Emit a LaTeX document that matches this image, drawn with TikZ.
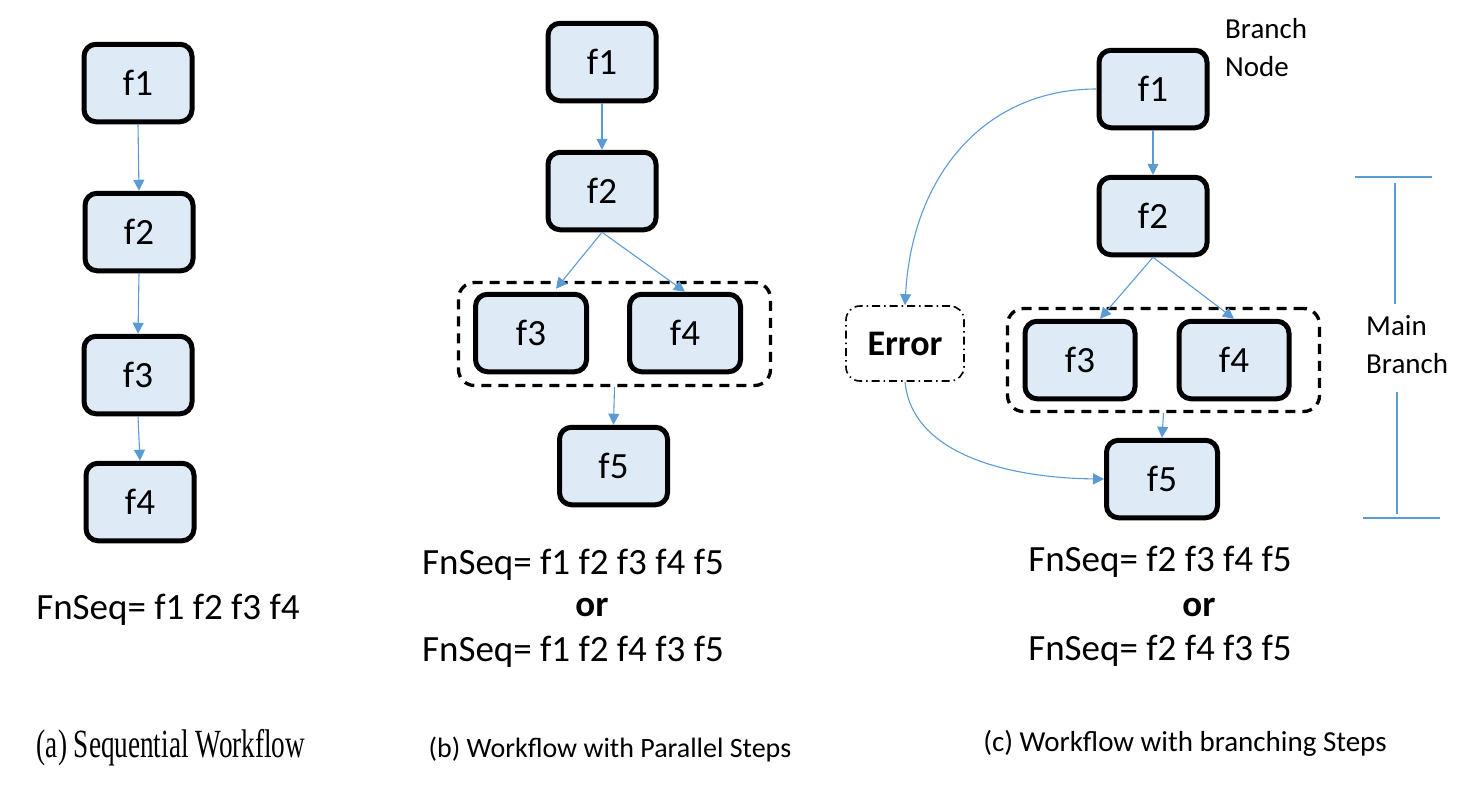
\documentclass[tikz,border=0pt]{standalone}
\usepackage{fontspec}
\setmainfont{Carlito}
\newfontfamily\capserif[FakeStretch=0.68]{Liberation Serif}
\usetikzlibrary{arrows.meta,calc}
\definecolor{boxfill}{HTML}{DEEBF7}
\definecolor{arrowblue}{HTML}{5B9BD5}
\tikzset{
  fbox/.style={draw=black, line width=5pt, fill=boxfill, rounded corners=12pt,
    minimum width=108pt, minimum height=77.5pt, inner sep=0pt,
    font=\fontsize{37}{44}\selectfont},
  conn/.style={draw=arrowblue, line width=1.1pt, -{Triangle[width=11pt,length=11pt]}},
  plainline/.style={draw=arrowblue, line width=1.1pt},
  grp/.style={draw=black, line width=3.3pt, dash pattern=on 10pt off 7pt,
    rounded corners=16pt, minimum width=312pt, minimum height=103pt, inner sep=0pt},
  errbox/.style={draw=black, line width=1.6pt, dash pattern=on 8pt off 4pt on 1.5pt off 4pt,
    rounded corners=14pt, minimum width=118pt, minimum height=75pt, inner sep=0pt,
    font=\bfseries\fontsize{36}{42}\selectfont},
  seqtxt/.style={font=\fontsize{37}{44}\selectfont, inner sep=0pt},
  ortxt/.style={font=\bfseries\fontsize{37}{44}\selectfont, inner sep=0pt},
  lbl/.style={font=\fontsize{29}{38}\selectfont, inner sep=0pt, align=left},
  captxt/.style={font=\fontsize{28}{34}\selectfont, inner sep=0pt},
}
\begin{document}
\begin{tikzpicture}[x=1pt,y=-1pt]
\useasboundingbox (0,0) rectangle (1473,785);

% ---- Panel (a)
\node[fbox] (a1) at (138,83) {f1};
\node[fbox] (a2) at (139,232) {f2};
\node[fbox] (a3) at (138,375) {f3};
\node[fbox] (a4) at (140,502) {f4};
\draw[conn] (a1.south) -- (a2.north);
\draw[conn] (a2.south) -- (a3.north);
\draw[conn] (a3.south) -- (a4.north);
\node[seqtxt] (aseq) at (168,610) {FnSeq= f1 f2 f3 f4};
\node[inner sep=0pt, font=\capserif\fontsize{40}{46}\selectfont] (acap) at (171,748) {(a) Sequential Workflow};

% ---- Panel (b)
\node[fbox] (b1) at (602,62) {f1};
\node[fbox] (b2) at (602,191) {f2};
\node[grp] (bg) at (614.5,334) {};
\node[fbox, minimum width=111pt] (b3) at (531,333) {f3};
\node[fbox, minimum width=111pt] (b4) at (685,333) {f4};
\node[fbox] (b5) at (613.5,466) {f5};
\coordinate (b3t) at ($(b3.north)+(25,-3)$);
\draw[conn] (b1.south) -- (b2.north);
\draw[conn] (b2.south) -- (b3t);
\draw[conn] (b2.south) -- (b4.north);
\draw[conn] (bg.south) -- (b5.north);
\node[seqtxt] (bseq1) at (573,565) {FnSeq= f1 f2 f3 f4 f5};
\node[ortxt] (bor) at (592,607) {or};
\node[seqtxt] (bseq2) at (573,652) {FnSeq= f1 f2 f4 f3 f5};
\node[captxt] (bcap) at (610,750) {(b) Workflow with Parallel Steps};

% ---- Panel (c)
\node[fbox] (c1) at (1153,89) {f1};
\node[fbox] (c2) at (1153,216) {f2};
\node[grp] (cg) at (1163.5,360) {};
\node[fbox, minimum width=110pt] (c3) at (1080,360) {f3};
\node[fbox, minimum width=110pt] (c4) at (1234,360) {f4};
\node[fbox, minimum width=111pt] (c5) at (1162,479) {f5};
\node[errbox] (er) at (905,343.5) {Error};
\coordinate (c3t) at ($(c3.north)+(20,0)$);
\draw[conn] (c1.south) -- (c2.north);
\draw[conn] (c2.south) -- (c3t);
\draw[conn] (c2.south) -- (c4.north);
\draw[conn] (cg.south) -- (c5.north);
\draw[conn] (c1.west) .. controls (985,89) and (912,175) .. (er.north);
\draw[conn] (er.south) .. controls (912,455) and (1010,478) .. (c5.west);
\node[lbl, anchor=north west] (bn) at (1225,18) {Branch\\Node};
\node[lbl, anchor=west] (mb) at (1366,345) {Main\\Branch};
\coordinate (t1) at (1355,177);
\coordinate (t2) at (1432,177);
\coordinate (v1) at (1395,183);
\coordinate (v2) at (1395,304);
\coordinate (v3) at (1397,392);
\coordinate (v4) at (1397,514);
\coordinate (u1) at (1363,518);
\coordinate (u2) at (1440,518);
\draw[plainline] (t1) -- (t2);
\draw[plainline] (v1) -- (v2);
\draw[plainline] (v3) -- (v4);
\draw[plainline] (u1) -- (u2);
\node[seqtxt] (cseq1) at (1160,562) {FnSeq= f2 f3 f4 f5};
\node[ortxt] (cor) at (1199,607) {or};
\node[seqtxt] (cseq2) at (1160,651) {FnSeq= f2 f4 f3 f5};
\node[captxt, font=\fontsize{29}{34}\selectfont] (ccap) at (1185,743) {(c) Workflow with branching Steps};
\end{tikzpicture}
\end{document}
